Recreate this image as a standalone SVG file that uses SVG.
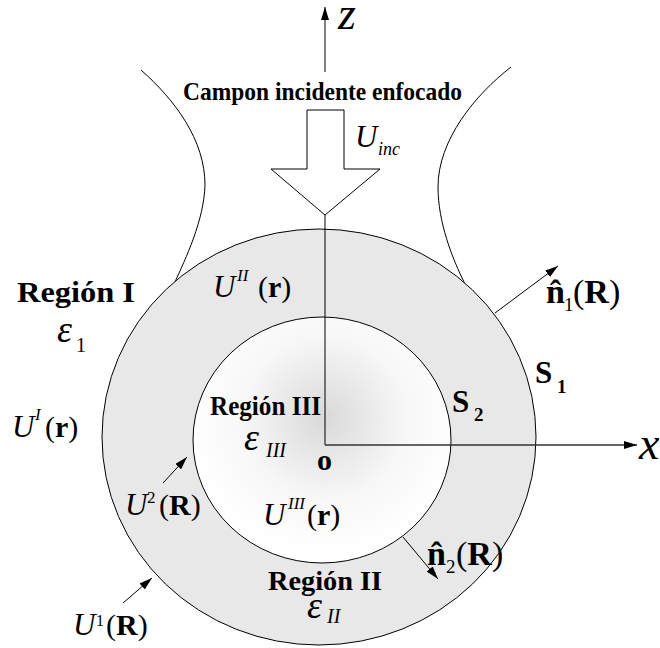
<svg xmlns="http://www.w3.org/2000/svg" width="660" height="648" viewBox="0 0 660 648">
<defs>
<radialGradient id="g3" gradientUnits="userSpaceOnUse" cx="325" cy="418" r="135">
<stop offset="0" stop-color="#d9d9d9"/>
<stop offset="0.6" stop-color="#f7f7f7"/>
<stop offset="1" stop-color="#ffffff"/>
</radialGradient>
<marker id="ah" viewBox="0 0 13 8" refX="13" refY="4" markerWidth="13" markerHeight="8" markerUnits="userSpaceOnUse" orient="auto">
<path d="M0,0 L13,4 L0,8 Z" fill="#000"/>
</marker>
</defs>
<style>
.ln{fill:none;stroke:#000;stroke-width:1}
text{font-family:'Liberation Serif','Times New Roman',serif;fill:#000}
.b{font-weight:bold}
.i{font-style:italic}
.u{font-style:italic;font-size:31px}
.sup{font-style:italic;font-size:17px}
.eps{font-style:italic;font-size:38px}
.rr{font-size:30px}
.rn{font-size:34px}
</style>
<g id="beam">
<path class="ln" d="M141,70 C175,100 205,140 205,185 C204,220 186,258 174,284"/>
<path class="ln" d="M511,67 C475,95 438,140 438,187 C438,222 452,258 465,284"/>
</g>
<g id="region2">
<ellipse cx="319" cy="437" rx="217" ry="208" fill="#e8e8e8" stroke="#000" stroke-width="1"/>
</g>
<g id="region3">
<ellipse cx="322" cy="440" rx="129" ry="123" fill="url(#g3)" stroke="#000" stroke-width="1"/>
</g>
<g id="connectors">
<line class="ln" x1="325" y1="72" x2="325" y2="7" marker-end="url(#ah)"/>
<line class="ln" x1="325" y1="215" x2="325" y2="445"/>
<line x1="325" y1="445" x2="637" y2="445" stroke="#333" stroke-width="1.4" marker-end="url(#ah)"/>
<line class="ln" x1="495" y1="313" x2="558" y2="266" marker-end="url(#ah)"/>
<line class="ln" x1="403" y1="537" x2="438" y2="579" marker-end="url(#ah)"/>
<line class="ln" x1="123" y1="603" x2="152" y2="578" marker-end="url(#ah)"/>
<line class="ln" x1="163" y1="483" x2="187" y2="457" marker-end="url(#ah)"/>
</g>
<g id="incident">
<polygon points="307,110 344,110 344,169 380,169 325,215 271,169 307,169" fill="#fff" stroke="#000" stroke-width="1"/>
<text class="b" x="183" y="100" font-size="25" textLength="279" lengthAdjust="spacingAndGlyphs">Campon incidente enfocado</text>
<text x="355" y="147"><tspan class="u" font-size="32">U</tspan><tspan class="i" font-size="18" x="378" y="155">inc</tspan></text>
</g>
<g id="axes-labels">
<text class="i" x="338" y="29" font-size="46">z</text>
<text class="i" x="639" y="459" font-size="46">x</text>
</g>
<g id="regionI">
<text class="b" x="17" y="302" font-size="30" textLength="118" lengthAdjust="spacingAndGlyphs">Región I</text>
<text x="57" y="342"><tspan class="eps">ε</tspan><tspan font-size="20" x="76" y="352">1</tspan></text>
<text x="12" y="437"><tspan class="u">U</tspan><tspan class="sup" x="35" y="420">I</tspan><tspan class="rr" x="45" y="437">(</tspan><tspan class="rr b">r</tspan><tspan class="rr">)</tspan></text>
<text x="73" y="635"><tspan class="u">U</tspan><tspan font-size="16" x="96" y="626">1</tspan><tspan class="rr" x="106" y="635">(</tspan><tspan class="rr b">R</tspan><tspan class="rr">)</tspan></text>
<text x="125" y="515"><tspan class="u">U</tspan><tspan font-size="17" x="147" y="503">2</tspan><tspan class="rr" x="159" y="515">(</tspan><tspan class="rr b">R</tspan><tspan class="rr">)</tspan></text>
</g>
<g id="regionII">
<text x="213" y="297"><tspan class="u">U</tspan><tspan class="sup" x="237" y="281">II</tspan><tspan class="rr" x="258" y="297">(</tspan><tspan class="rr b">r</tspan><tspan class="rr">)</tspan></text>
<text class="b" x="268" y="590" font-size="28" textLength="114" lengthAdjust="spacingAndGlyphs">Región II</text>
<text x="307" y="618"><tspan class="eps">ε</tspan><tspan class="i" font-size="20" x="327" y="623">II</tspan></text>
<text class="b" x="535" y="383" font-size="31">S<tspan font-size="19" x="557" y="393">1</tspan></text>
<text x="546" y="303"><tspan class="rn b">n&#x302;</tspan><tspan font-size="19" x="564" y="311">1</tspan><tspan class="rn" x="573" y="303">(</tspan><tspan class="rn b">R</tspan><tspan class="rn">)</tspan></text>
</g>
<g id="regionIII">
<text class="b" x="210" y="415" font-size="28" textLength="111" lengthAdjust="spacingAndGlyphs">Región III</text>
<text x="244" y="450"><tspan class="eps">ε</tspan><tspan class="i" font-size="20" x="266" y="457">III</tspan></text>
<text class="b" x="317" y="470" font-size="30">o</text>
<text x="263" y="525"><tspan class="u">U</tspan><tspan class="sup" x="288" y="509">III</tspan><tspan class="rr" x="307" y="525">(</tspan><tspan class="rr b">r</tspan><tspan class="rr">)</tspan></text>
<text class="b" x="452" y="412" font-size="31">S<tspan font-size="19" x="474" y="421">2</tspan></text>
<text x="427" y="565"><tspan class="rn b">n&#x302;</tspan><tspan font-size="19" x="446" y="573">2</tspan><tspan class="rn" x="456" y="565">(</tspan><tspan class="rn b">R</tspan><tspan class="rn">)</tspan></text>
</g>
</svg>
